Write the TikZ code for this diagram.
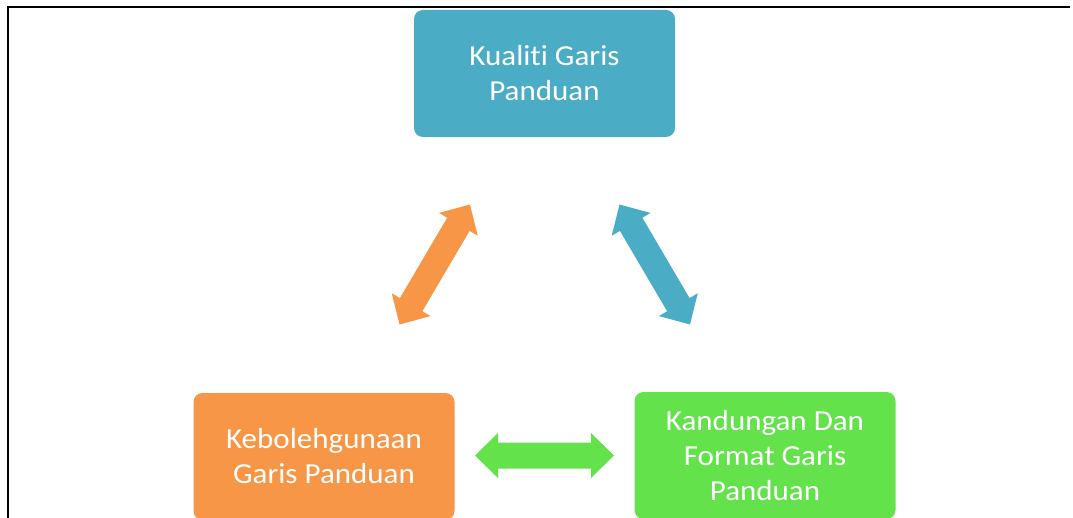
\documentclass[tikz,border=0pt]{standalone}
\usepackage{fontspec}
\setmainfont[FakeStretch=1.07,Ligatures=NoCommon]{Carlito}
\usetikzlibrary{calc}
\definecolor{qblue}{HTML}{4BACC6}
\definecolor{qorange}{HTML}{F79646}
\definecolor{qgreen}{HTML}{63E24B}
% filled two-headed block arrow between two tip coordinates
\newcommand\twowayarrow[3]{%
  \coordinate (ha) at ($(#2)!23pt!(#3)$);
  \coordinate (hb) at ($(#3)!23pt!(#2)$);
  \fill[#1] (#2) -- ($(ha)!22.5pt!90:(#3)$) -- ($(ha)!13pt!90:(#3)$)
    -- ($(hb)!13pt!-90:(#2)$) -- ($(hb)!22.5pt!-90:(#2)$) -- (#3)
    -- ($(hb)!22.5pt!90:(#2)$) -- ($(hb)!13pt!90:(#2)$)
    -- ($(ha)!13pt!-90:(#3)$) -- ($(ha)!22.5pt!-90:(#3)$) -- cycle;}
\tikzset{
  item/.style={rounded corners=9pt, minimum width=261pt, minimum height=127pt,
    text=white, align=center, inner sep=0pt,
    font=\fontsize{29}{35}\selectfont},
}
\begin{document}
\begin{tikzpicture}[x=1pt,y=-1pt]
  \useasboundingbox (0,0) rectangle (1073,518);
  \clip (0,0) rectangle (1073,518);
  \fill[white] (0,0) rectangle (1073,518);
  % frame
  \draw[line width=2pt] (7.5,520) -- (7.5,7) -- (1070,7);
  % boxes
  \node[item, fill=qblue] (quality) at (544.5,73.5) {Kualiti Garis\\Panduan};
  \node[item, fill=qorange] (usability) at (324,456.5) {Kebolehgunaan\\Garis Panduan};
  \node[item, fill=qgreen] (content) at (765,455.5) {Kandungan Dan\\Format Garis\\Panduan};
  % arrow tips
  \coordinate (o1) at (399.5,324.5);
  \coordinate (o2) at (470,204.5);
  \coordinate (b1) at (619.5,204.5);
  \coordinate (b2) at (690,324.5);
  \coordinate (g1) at (475,455.5);
  \coordinate (g2) at (614,455.5);
  \twowayarrow{qorange}{o1}{o2}
  \twowayarrow{qblue}{b1}{b2}
  \twowayarrow{qgreen}{g1}{g2}
\end{tikzpicture}
\end{document}
